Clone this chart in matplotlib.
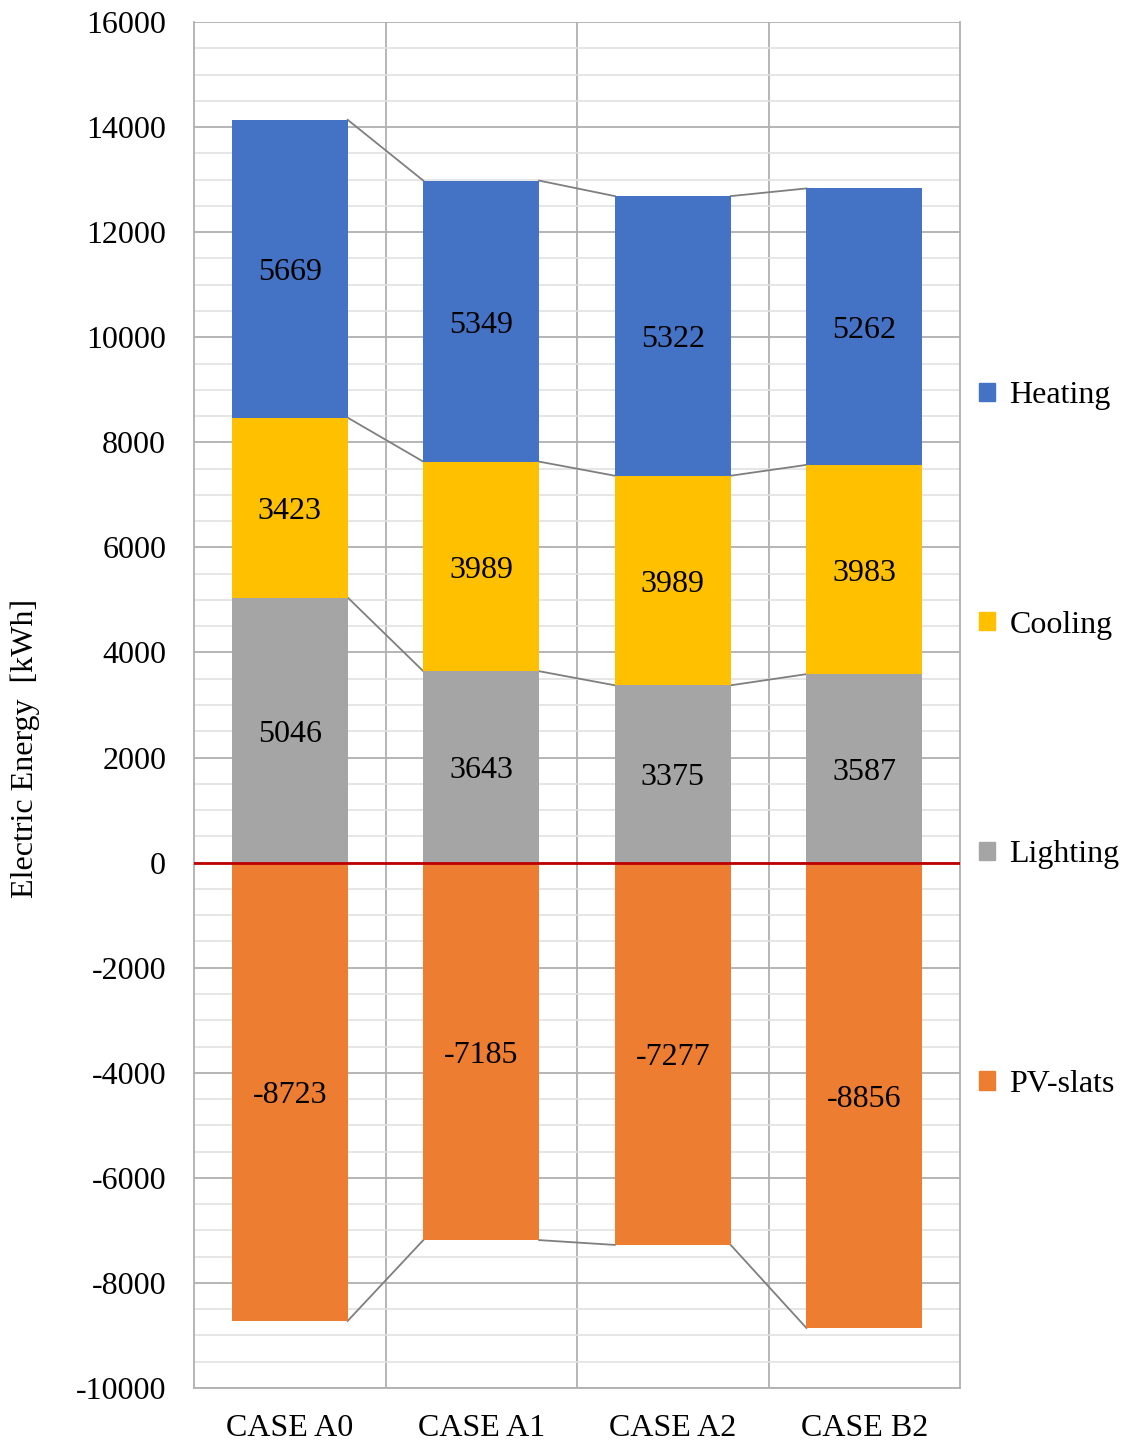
import matplotlib
matplotlib.use("Agg")
import matplotlib.pyplot as plt
from matplotlib.ticker import MultipleLocator, FuncFormatter
from matplotlib.patches import Patch
from matplotlib.transforms import offset_copy
import numpy as np

plt.rcParams['font.family'] = ['Liberation Serif', 'DejaVu Serif']

cases = ["CASE A0", "CASE A1", "CASE A2", "CASE B2"]
lighting = [5046, 3643, 3375, 3587]
cooling = [3423, 3989, 3989, 3983]
heating = [5669, 5349, 5322, 5262]
pv_slats = [-8723, -7185, -7277, -8856]

col_heat = "#4472C4"
col_cool = "#FFC000"
col_light = "#A5A5A5"
col_pv = "#ED7D31"

fig = plt.figure(figsize=(11.29, 14.44), dpi=100)
W, H = 1129, 1444
ax = fig.add_axes([194 / W, 1 - 1388 / H, (960 - 194) / W, (1388 - 22) / H])

x = np.arange(len(cases))
bw = 0.605
light = np.array(lighting)
cool = np.array(cooling)
heat = np.array(heating)
pv = np.array(pv_slats)

ax.bar(x, light, bw, color=col_light, zorder=3)
ax.bar(x, cool, bw, bottom=light, color=col_cool, zorder=3)
ax.bar(x, heat, bw, bottom=light + cool, color=col_heat, zorder=3)
ax.bar(x, pv, bw, color=col_pv, zorder=3)

# series lines joining the segment edges of neighbouring bars
for level in (light, light + cool, light + cool + heat, pv):
    for i in range(len(x) - 1):
        ax.plot([x[i] + bw / 2, x[i + 1] - bw / 2], [level[i], level[i + 1]],
                color="#7F7F7F", lw=1.3, zorder=2)

# value labels centred in each segment
fs = 23
lab_tr = offset_copy(ax.transData, fig=fig, x=0, y=-4, units="dots")
for i in range(len(x)):
    ax.text(x[i], light[i] / 2, str(lighting[i]), ha="center", va="center", fontsize=fs, zorder=5, transform=lab_tr)
    ax.text(x[i], light[i] + cool[i] / 2, str(cooling[i]), ha="center", va="center", fontsize=fs, zorder=5, transform=lab_tr)
    ax.text(x[i], light[i] + cool[i] + heat[i] / 2, str(heating[i]), ha="center", va="center", fontsize=fs, zorder=5, transform=lab_tr)
    ax.text(x[i], pv[i] / 2, str(pv_slats[i]), ha="center", va="center", fontsize=fs, zorder=5, transform=lab_tr)

ax.axhline(0, color="#C00000", lw=2, zorder=4)

ax.set_xlim(-0.5, 3.5)
ax.set_ylim(-10000, 16000)
ax.yaxis.set_major_locator(MultipleLocator(2000))
ax.yaxis.set_minor_locator(MultipleLocator(500))
ax.yaxis.set_major_formatter(FuncFormatter(lambda v, p: f"{int(v)}"))
ax.grid(axis="y", which="major", color="#B0B0B0", lw=1.3, zorder=0)
ax.grid(axis="y", which="minor", color="#E2E2E2", lw=1.2, zorder=0)
for xb in (0.5, 1.5, 2.5):
    ax.axvline(xb, color="#B0B0B0", lw=1.3, zorder=0)

ax.set_xticks(x)
ax.set_xticklabels(cases, fontsize=fs)
ax.tick_params(axis="x", length=0, pad=19)
ax.tick_params(axis="y", which="major", length=0, labelsize=fs, pad=20)
ax.tick_params(axis="y", which="minor", length=0)
ax.spines["top"].set_visible(False)
for s in ("left", "bottom", "right"):
    ax.spines[s].set_color("#B0B0B0")
    ax.spines[s].set_linewidth(1.3)

fig.text(25 / W, 1 - 748 / H, "Electric Energy  [kWh]", rotation=90, ha="center", va="center", fontsize=fs)

handles = [Patch(color=col_heat), Patch(color=col_cool), Patch(color=col_light), Patch(color=col_pv)]
labels = ["Heating", "Cooling", "Lighting", "PV-slats"]
fig.legend(handles, labels, loc="upper left", bbox_to_anchor=(979 / W, 1 - 381 / H),
           frameon=False, fontsize=fs, handlelength=0.5, handleheight=0.5,
           handletextpad=0.45, labelspacing=6.28, borderaxespad=0, borderpad=0)

fig.savefig("out.png", dpi=100)
